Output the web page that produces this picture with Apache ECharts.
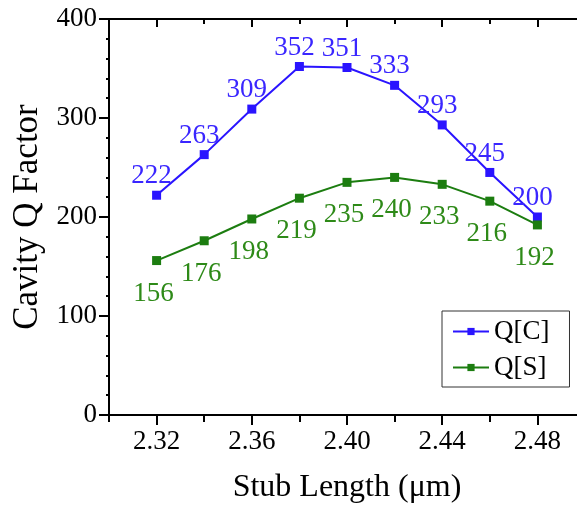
<!DOCTYPE html>
<html>
<head>
<meta charset="utf-8">
<script src="https://cdn.jsdelivr.net/npm/echarts@6/dist/echarts.min.js"></script>
<style>html,body{margin:0;padding:0;background:#fff}#c{width:577px;height:506px}</style>
</head>
<body>
<div id="c"></div>
<script>
const stubLength = [2.32, 2.34, 2.36, 2.38, 2.40, 2.42, 2.44, 2.46, 2.48];
const qC = [222, 263, 309, 352, 351, 333, 293, 245, 200];
const qS = [156, 176, 198, 219, 235, 240, 233, 216, 192];
const xLabelTicks = [2.32, 2.36, 2.40, 2.44, 2.48];
const yTicks = [0, 100, 200, 300, 400];
const seriesNames = ['Q[C]', 'Q[S]'];

const FONT = "Liberation Serif";
const blue = '#2a14ff', blueText = '#3a26ff';
const green = '#1c7d10', greenText = '#2e8a18';

const chart = echarts.init(document.getElementById('c'), null, {renderer: 'canvas'});
const pairs = a => stubLength.map((x, i) => [x, a[i]]);
const isLabelTick = v => xLabelTicks.some(t => Math.abs(t - v) < 1e-6);
const xBase = {type: 'value', min: 2.30, max: 2.50, splitLine: {show: false}};
chart.setOption({
  animation: false,
  backgroundColor: '#fff',
  textStyle: {fontFamily: FONT},
  grid: {left: 109, top: 19, width: 476, height: 396, containLabel: false, outerBoundsMode: 'none'},
  legend: {
    orient: 'vertical', left: 442, top: 311,
    data: seriesNames,
    backgroundColor: '#fff',
    borderColor: '#333', borderWidth: 1, padding: [7, 20, 6, 10],
    itemWidth: 36, itemHeight: 9, itemGap: 9,
    textStyle: {fontFamily: FONT, fontSize: 27, color: '#000'}
  },
  xAxis: [
    Object.assign({}, xBase, {
      position: 'bottom', interval: 0.02,
      name: 'Stub Length (μm)', nameLocation: 'middle', nameGap: 57,
      nameTextStyle: {fontFamily: FONT, fontSize: 32, color: '#000'},
      axisLine: {show: true, onZero: false, lineStyle: {color: '#000', width: 2}},
      axisTick: {show: true, inside: false, length: 7, lineStyle: {color: '#000', width: 2}},
      axisLabel: {margin: 13, fontFamily: FONT, fontSize: 27, color: '#000',
        formatter: v => isLabelTick(v) ? Number(v).toFixed(2) : ''}
    }),
    Object.assign({}, xBase, {
      position: 'bottom',
      axisLine: {show: false, onZero: false},
      axisTick: {show: true, customValues: xLabelTicks, inside: false, length: 10, lineStyle: {color: '#000', width: 2}},
      axisLabel: {show: false}
    }),
    Object.assign({}, xBase, {
      position: 'top', interval: 0.02,
      axisLine: {show: true, onZero: false, lineStyle: {color: '#000', width: 2}},
      axisTick: {show: true, inside: true, length: 5, lineStyle: {color: '#000', width: 2}},
      axisLabel: {show: false}
    }),
    Object.assign({}, xBase, {
      position: 'top',
      axisLine: {show: false, onZero: false},
      axisTick: {show: true, customValues: xLabelTicks, inside: true, length: 8, lineStyle: {color: '#000', width: 2}},
      axisLabel: {show: false}
    })
  ],
  yAxis: {
    type: 'value', min: yTicks[0], max: yTicks[yTicks.length - 1], interval: 100,
    name: 'Cavity Q Factor', nameLocation: 'middle', nameGap: 59,
    nameTextStyle: {fontFamily: FONT, fontSize: 35, color: '#000'},
    axisLine: {show: true, onZero: false, lineStyle: {color: '#000', width: 2}},
    axisTick: {show: true, inside: false, length: 10, lineStyle: {color: '#000', width: 2}},
    minorTick: {show: true, splitNumber: 5, length: 3, lineStyle: {color: '#000', width: 2}},
    axisLabel: {margin: 12, fontFamily: FONT, fontSize: 27, color: '#000'},
    splitLine: {show: false}
  },
  series: [
    {
      name: seriesNames[0], type: 'line', xAxisIndex: 0, data: pairs(qC),
      symbol: 'rect', symbolSize: 9, color: blue,
      lineStyle: {width: 2, color: blue}, itemStyle: {color: blue},
      label: {show: true, position: 'top', distance: 1, offset: [-5, 0],
        fontFamily: FONT, fontSize: 27, color: blueText}
    },
    {
      name: seriesNames[1], type: 'line', xAxisIndex: 0, data: pairs(qS),
      symbol: 'rect', symbolSize: 9, color: green,
      lineStyle: {width: 2, color: green}, itemStyle: {color: green},
      label: {show: true, position: 'bottom', distance: 15, offset: [-3, 0],
        fontFamily: FONT, fontSize: 27, color: greenText}
    }
  ]
});
</script>
</body>
</html>
